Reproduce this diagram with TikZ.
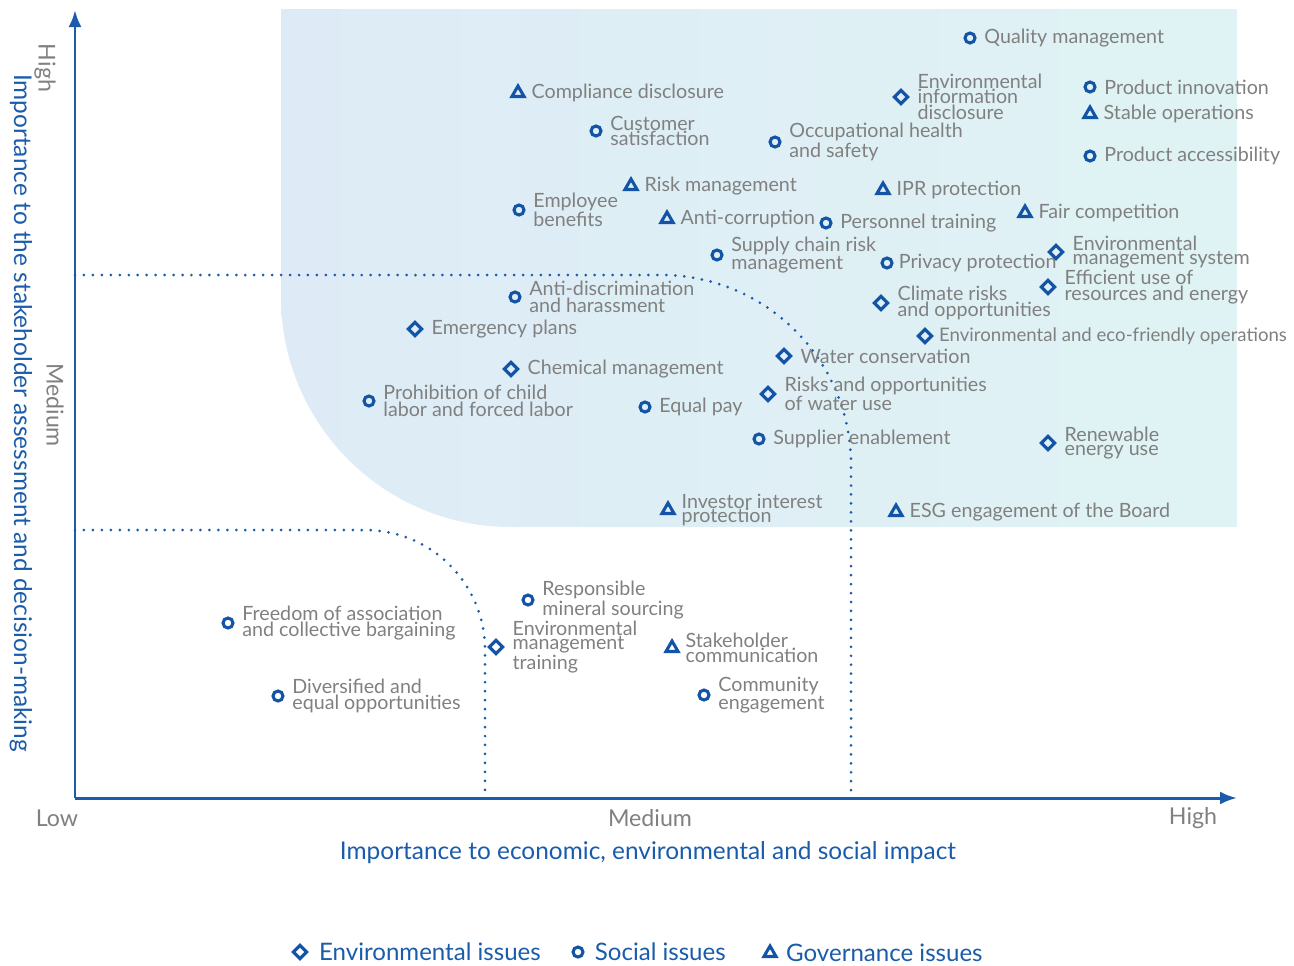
\documentclass[tikz,border=0pt]{standalone}
\usepackage{fontspec}
\setmainfont{Lato}
\usetikzlibrary{positioning,shapes.geometric,arrows.meta}

\definecolor{esgblue}{HTML}{1A5CAB}
\definecolor{mkblue}{HTML}{1454A6}
\definecolor{txtgray}{HTML}{808080}
\definecolor{zoneleft}{HTML}{DEEBF6}
\definecolor{zoneright}{HTML}{DFF3F4}

\tikzset{
  mk/.style={draw=mkblue, line width=1.75pt, inner sep=0pt},
  env/.style={mk, diamond, minimum size=0.29cm},
  soc/.style={mk, circle, minimum size=0.2cm},
  gov/.style={mk, regular polygon, regular polygon sides=3, minimum size=0.28cm},
  lbl/.style={text=txtgray, inner sep=0pt, align=left, font=\fontsize{11.2}{8.3}\selectfont},
  axislbl/.style={text=txtgray, font=\fontsize{13.2}{14}\selectfont},
  ttl/.style={text=esgblue, font=\fontsize{13.9}{14}\selectfont},
  legend/.style={text=esgblue, inner sep=0pt, font=\fontsize{13.7}{14}\selectfont},
  zone/.style={esgblue, line width=1.7pt, line cap=round, dash pattern=on 0pt off 5.1pt},
}

\begin{document}
\begin{tikzpicture}[x=0.02cm, y=-0.02cm, node distance=1.5mm, >={Latex[length=3.4mm,width=2.6mm]}]
	\useasboundingbox (0,0) rectangle (1294,965);
	% material zone
	\shade [left color=zoneleft, right color=zoneright] (281,9) -- (281,297) arc [start angle=180, end angle=90, radius=230] -- (1237,527) -- (1237,9) -- cycle;
	% thresholds
	\draw [zone, rounded corners=3.8cm] (75,275) -- (851,275) -- (851,798);
	\draw [zone, rounded corners=2.4cm] (75,530) -- (485,530) -- (485,798);
	% axes
	\coordinate (o) at (75,798);
	\coordinate (ytop) at (75,10);
	\coordinate (xend) at (1237,798);
	\draw [->, esgblue, line width=1.7pt] (o) -- (ytop);
	\draw [->, esgblue, line width=1.7pt] (o) -- (xend);
	\node [axislbl] (xlow) at (57,818) {Low};
	\node [axislbl] (xmed) at (650,818) {Medium};
	\node [axislbl] (xhigh) at (1193,818) {High};
	\node [ttl] (xttl) at (648,853) {Importance to economic, environmental and social impact};
	\node [axislbl, rotate=-90] (yhigh) at (45,68) {High};
	\node [axislbl, rotate=-90] (ymed) at (55,405) {Medium};
	\node [ttl, rotate=-90] (yttl) at (21,413) {Importance to the stakeholder assessment and decision-making};

	% issues
	\node [soc] (qm) at (970,38) {};
	\node [lbl, right=of qm] (qm-t) {Quality management};
	\node [env] (eid) at (901,97) {};
	\node [lbl, right=of eid] (eid-t) {Environmental\\information\\disclosure};
	\node [soc] (pin) at (1090,87) {};
	\node [lbl, right=of pin] (pin-t) {Product innovation};
	\node [gov] (sop) at (1090,114) {};
	\node [lbl, right=of sop] (sop-t) {Stable operations};
	\node [soc] (pac) at (1090,156) {};
	\node [lbl, right=of pac] (pac-t) {Product accessibility};
	\node [gov] (cdi) at (518,93) {};
	\node [lbl, right=of cdi] (cdi-t) {Compliance disclosure};
	\node [soc] (cus) at (596,131) {};
	\node [lbl, right=of cus] (cus-t) {Customer\\satisfaction};
	\node [soc] (ohs) at (775,142) {};
	\node [lbl, right=of ohs] (ohs-t) {Occupational health\\and safety};
	\node [gov] (rm) at (631,186) {};
	\node [lbl, right=of rm] (rm-t) {Risk management};
	\node [gov] (ipr) at (883,190) {};
	\node [lbl, right=of ipr] (ipr-t) {IPR protection};
	\node [soc] (emb) at (519,210) {};
	\node [lbl, right=of emb] (emb-t) {Employee\\benefits};
	\node [gov] (ac) at (667,219) {};
	\node [lbl, right=of ac] (ac-t) {Anti-corruption};
	\node [soc] (pt) at (826,223) {};
	\node [lbl, right=of pt] (pt-t) {Personnel training};
	\node [gov] (fc) at (1025,213) {};
	\node [lbl, right=of fc] (fc-t) {Fair competition};
	\node [soc] (scr) at (717,255) {};
	\node [lbl, right=of scr] (scr-t) {Supply chain risk\\management};
	\node [soc] (pp) at (887,263) {};
	\node [lbl, right=1mm of pp] (pp-t) {Privacy protection};
	\node [env] (ems) at (1056,252) {};
	\node [lbl, right=of ems] (ems-t) {Environmental\\management system};
	\node [env] (eur) at (1048,287) {};
	\node [lbl, right=of eur] (eur-t) {Efficient use of\\resources and energy};
	\node [env] (cro) at (881,303) {};
	\node [lbl, right=of cro] (cro-t) {Climate risks\\and opportunities};
	\node [soc] (adh) at (515,297) {};
	\node [lbl, right=of adh] (adh-t) {Anti-discrimination\\and harassment};
	\node [env] (ep) at (415,329) {};
	\node [lbl, right=of ep] (ep-t) {Emergency plans};
	\node [env] (eeo) at (925,336) {};
	\node [lbl, right=1mm of eeo, font=\fontsize{10.6}{8.3}\selectfont] (eeo-t) {Environmental and eco-friendly operations};
	\node [env] (wc) at (784,356) {};
	\node [lbl, right=of wc] (wc-t) {Water conservation};
	\node [env] (cm) at (511,369) {};
	\node [lbl, right=of cm] (cm-t) {Chemical management};
	\node [soc] (pcl) at (369,401) {};
	\node [lbl, right=of pcl] (pcl-t) {Prohibition of child\\labor and forced labor};
	\node [soc] (eqp) at (645,407) {};
	\node [lbl, right=of eqp] (eqp-t) {Equal pay};
	\node [env] (rwu) at (768,394) {};
	\node [lbl, right=of rwu] (rwu-t) {Risks and opportunities\\of water use};
	\node [soc] (se) at (759,439) {};
	\node [lbl, right=of se] (se-t) {Supplier enablement};
	\node [env] (reu) at (1048,443) {};
	\node [lbl, right=of reu] (reu-t) {Renewable\\energy use};
	\node [gov] (iip) at (668,510) {};
	\node [lbl, right=of iip] (iip-t) {Investor interest\\protection};
	\node [gov] (esg) at (896,512) {};
	\node [lbl, right=of esg] (esg-t) {ESG engagement of the Board};

	\node [soc] (rms) at (528,600) {};
	\node [lbl, right=of rms] (rms-t) {Responsible\\mineral sourcing};
	\node [soc] (fac) at (228,623) {};
	\node [lbl, right=of fac] (fac-t) {Freedom of association\\and collective bargaining};
	\node [env] (emt) at (496,647) {};
	\node [lbl, right=of emt] (emt-t) {Environmental\\management\\training};
	\node [gov] (shc) at (672,648) {};
	\node [lbl, right=of shc] (shc-t) {Stakeholder\\communication};
	\node [soc] (deo) at (278,696) {};
	\node [lbl, right=of deo] (deo-t) {Diversified and\\equal opportunities};
	\node [soc] (ce) at (704,695) {};
	\node [lbl, right=of ce] (ce-t) {Community\\engagement};

	% legend
	\node [env] (lg-env) at (300,952) {};
	\node [legend, right=2mm of lg-env] (lg-env-t) {Environmental issues};
	\node [soc] (lg-soc) at (578,952) {};
	\node [legend, right=2mm of lg-soc] (lg-soc-t) {Social issues};
	\node [gov] (lg-gov) at (770,953) {};
	\node [legend, right=2mm of lg-gov] (lg-gov-t) {Governance issues};
\end{tikzpicture}
\end{document}
